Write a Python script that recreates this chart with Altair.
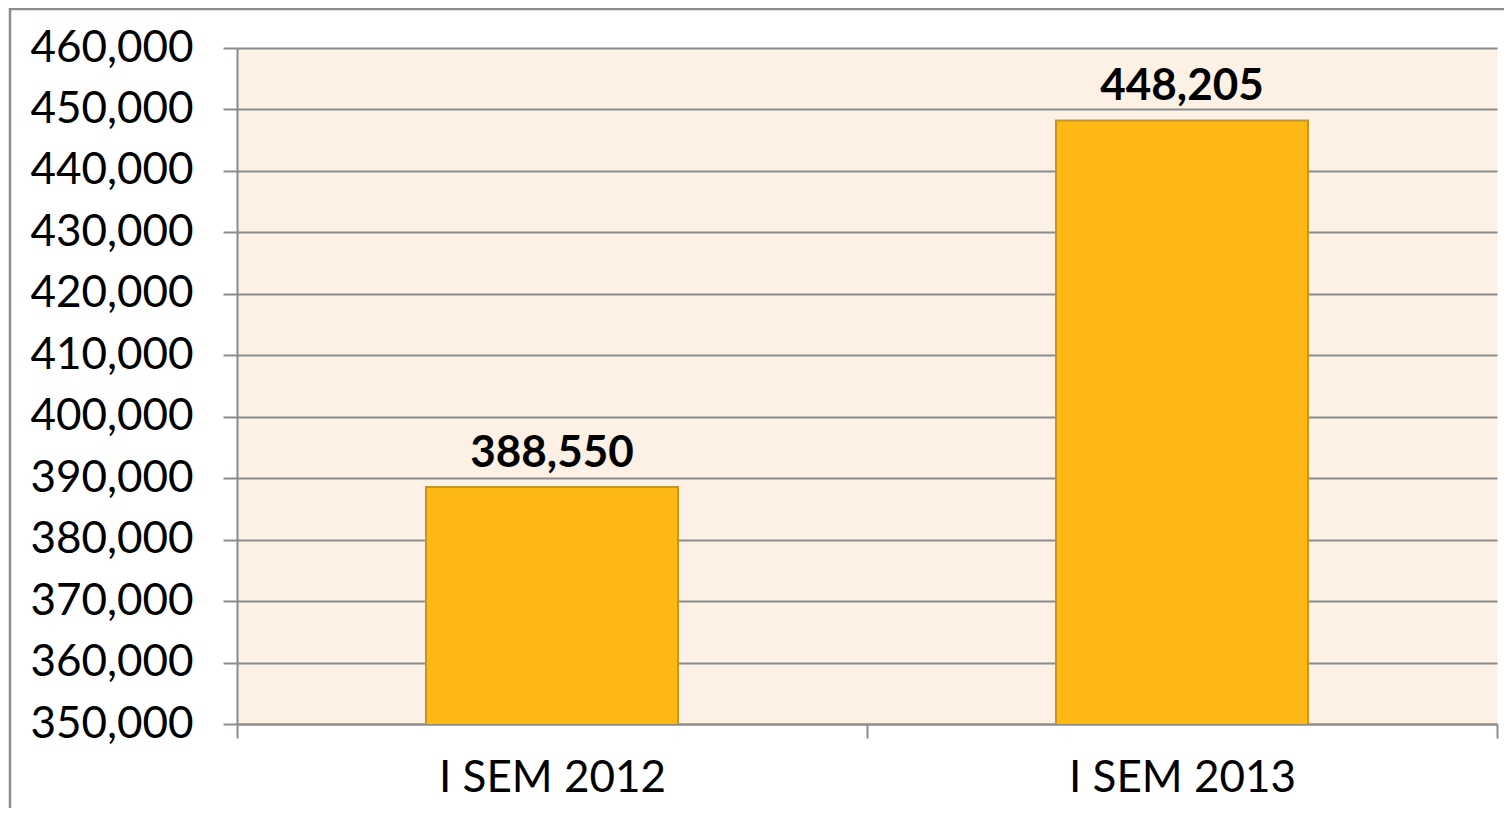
import altair as alt
import pandas as pd

categories = ["I SEM 2012", "I SEM 2013"]
values = [388550, 448205]
y_ticks = [350000, 360000, 370000, 380000, 390000, 400000, 410000,
           420000, 430000, 440000, 450000, 460000]

df = pd.DataFrame({"periodo": categories, "valor": values})

FONT = "Lato"
FS = 44
GRAY = "#8c8c8c"

x_enc = alt.X(
    "periodo:N",
    sort=categories,
    scale=alt.Scale(paddingInner=0, paddingOuter=0),
    axis=alt.Axis(
        title=None, labelAngle=0, tickBand="extent", grid=False,
        labelFont=FONT, labelFontSize=FS, labelColor="black", labelPadding=18,
        labelLimit=500,
        tickSize=14, tickColor=GRAY, tickWidth=2,
        domainColor=GRAY, domainWidth=2,
    ),
)
y_enc = alt.Y(
    "valor:Q",
    scale=alt.Scale(domain=[350000, 460000], nice=False, zero=False),
    axis=alt.Axis(
        title=None, values=y_ticks, format=",d",
        labelFont=FONT, labelFontSize=FS, labelColor="black", labelPadding=30,
        tickSize=14, tickColor=GRAY, tickWidth=2,
        domainColor=GRAY, domainWidth=2,
        grid=True, gridColor=GRAY, gridWidth=2,
    ),
)

base = alt.Chart(df)

bars = base.mark_bar(
    fill="#FDB813", stroke="#C8961C", strokeWidth=2, clip=True,
    width=alt.RelativeBandSize(0.4),
).encode(x=x_enc, y=y_enc)

labels = base.mark_text(
    baseline="alphabetic", dy=-20, font=FONT, fontSize=FS,
    fontWeight="bold", color="black",
).encode(x=x_enc, y=y_enc, text=alt.Text("valor:Q", format=",d"))

frame = alt.Chart(pd.DataFrame({"f": [0]})).mark_rect(
    fill="transparent", stroke=GRAY, strokeWidth=2.5, clip=False
).encode(
    x=alt.value(-227), x2=alt.value(1400),
    y=alt.value(-39), y2=alt.value(900),
)

chart = (
    alt.layer(frame, bars, labels)
    .properties(
        width=1260, height=676,
        autosize=alt.AutoSizeParams(type="none"),
        padding={"left": 229, "top": 40, "right": 7, "bottom": 84},
        background="white",
    )
    .configure_view(fill="#FDF0E5", stroke="transparent")
)

chart.save("out.html", embed_options={"renderer": "svg", "actions": False})
